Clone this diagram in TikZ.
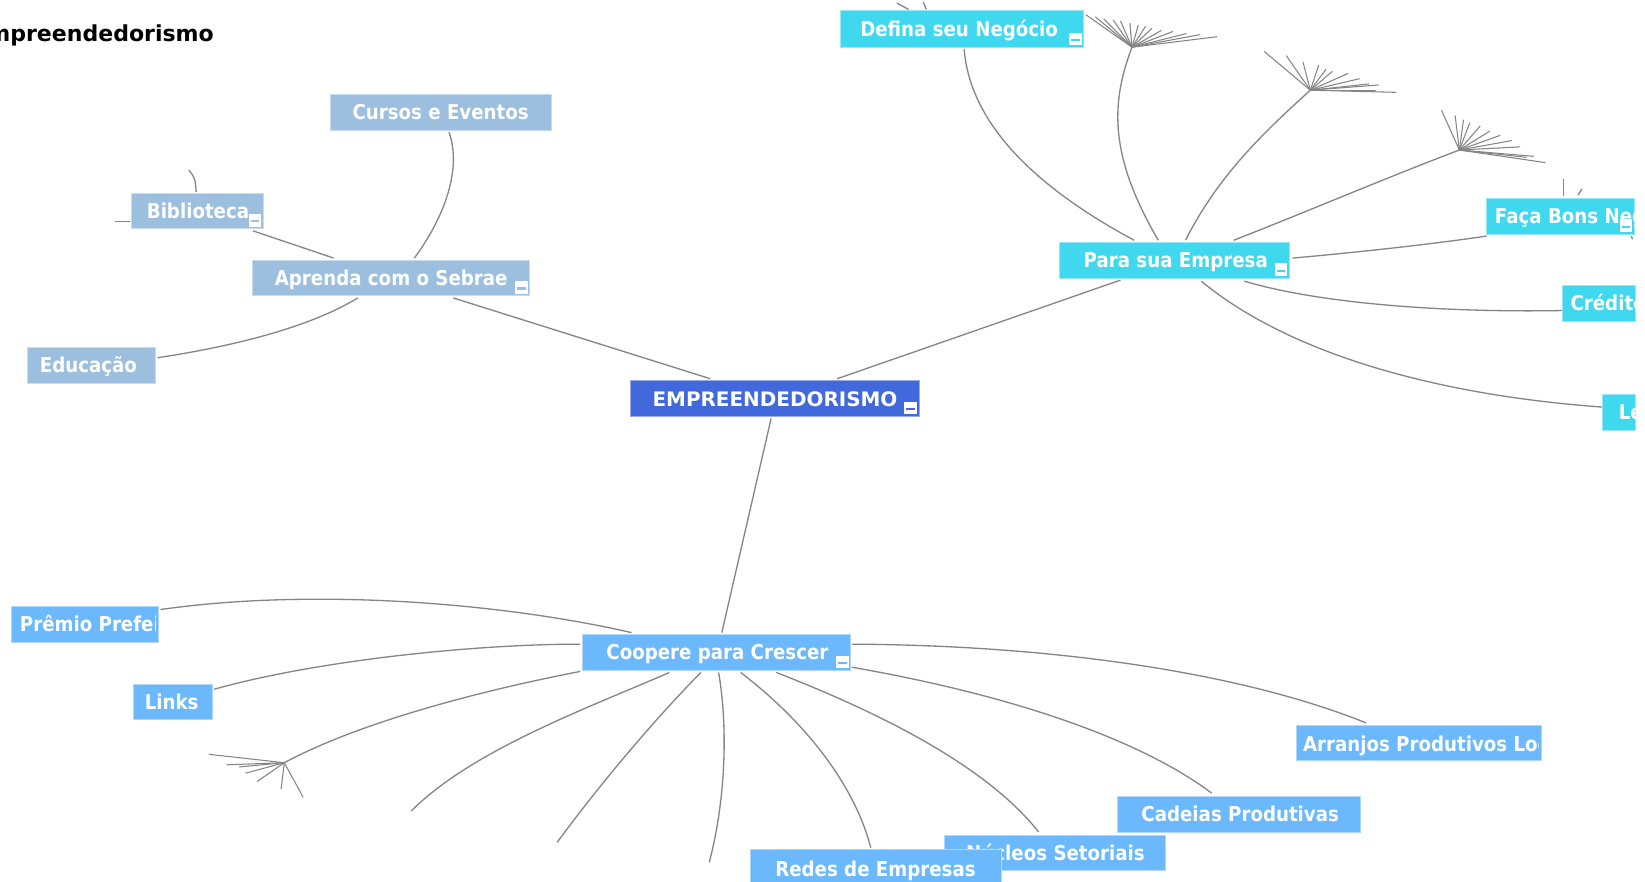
\documentclass[tikz,border=0pt]{standalone}
\usepackage{fontspec}
\setmainfont{DejaVu Sans}
\newfontfamily\nodefont{DejaVu Sans}[FakeStretch=0.89]
\usetikzlibrary{calc}
\pgfdeclarelayer{bg}
\pgfsetlayers{bg,main}
\definecolor{grpA}{HTML}{9CBFE0}
\definecolor{grpRoot}{HTML}{4169DB}
\definecolor{grpB}{HTML}{40D8EF}
\definecolor{grpC}{HTML}{6BB9FC}
\definecolor{edgecol}{HTML}{858585}
\newcommand\mkicon[2]{%
  \fill[white] ($(#1.south east)+(-14,-14)$) rectangle ($(#1.south east)+(-2,-2)$);
  \fill[#2] ($(#1.south east)+(-12,-8)$) rectangle ($(#1.south east)+(-4,-6)$);
}
\begin{document}
\begin{tikzpicture}[x=1pt,y=-1pt,
  conn/.style={draw=edgecol, line width=1.25pt},
  spoke/.style={draw=edgecol, line width=1pt},
  box/.style={rectangle, inner sep=0pt, outer sep=0pt, line width=0.8pt, minimum height=34pt},
  boxA/.style={box, fill=grpA, draw=grpA!55!white},
  boxR/.style={box, fill=grpRoot, draw=grpRoot!55!white},
  boxB/.style={box, fill=grpB, draw=grpB!55!white},
  boxC/.style={box, fill=grpC, draw=grpC!55!white},
  lbl/.style={anchor=base west, inner sep=0pt, outer sep=0pt, text=white, font=\nodefont\bfseries\fontsize{19.5}{22}\selectfont},
  rootlbl/.style={anchor=base west, inner sep=0pt, outer sep=0pt, text=white, font=\bfseries\fontsize{19}{22}\selectfont},
]
\useasboundingbox (0,0) rectangle (1568,840);

% title
\node[anchor=base east, inner sep=0pt, font=\bfseries\fontsize{21}{24}\selectfont] (title) at (204,40) {Empreendedorismo};

% boxes
\node[boxA, minimum width=211pt] (cursos) at (420.5,107) {};
\node[boxA, minimum width=126pt] (biblio) at (188,201) {};
\node[boxA, minimum width=264pt] (aprenda) at (373,265) {};
\node[boxA, minimum width=122pt] (educ) at (87,348) {};
\node[boxR, minimum width=275pt] (root) at (738.5,380) {};
\node[boxB, minimum width=232pt, minimum height=35pt] (defina) at (917,27.5) {};
\node[boxB, minimum width=219pt] (para) at (1119.5,248) {};
\node[boxB, minimum width=141pt] (faca) at (1487.5,206) {};
\node[boxB, minimum width=69.5pt] (credito) at (1523.75,289) {};
\node[boxB, minimum width=31.5pt] (lbox) at (1542.75,393) {};
\node[boxC, minimum width=256pt] (coopere) at (683,622) {};
\node[boxC, minimum width=140pt] (premio) at (81,595) {};
\node[boxC, minimum width=75pt] (links) at (164.5,669) {};
\node[boxC, minimum width=233pt] (arranjos) at (1352.5,708) {};
\node[boxC, minimum width=232pt] (cadeias) at (1181,776) {};
\node[boxC, minimum width=211pt] (nucleos) at (1005.5,813) {};
\node[lbl] (t-nucleos) at (921,820) {Núcleos Setoriais};
\node[boxC, minimum width=240pt] (redes) at (835,827) {};

% free ends
\coordinate (fan1) at (1079,45);
\coordinate (fan2) at (1249,86);
\coordinate (fan3) at (1391,143);
\coordinate (fan4) at (271,727);
\coordinate (e1) at (392,773);
\coordinate (e2) at (531,803);
\coordinate (e3) at (676,822);

\begin{pgfonlayer}{bg}
\fill[white] (0,0) rectangle (1568,840);
% root connections
\draw[conn] ($(root.north west)+(76,-2)$) -- ($(aprenda.south west)+(191,2)$);
\draw[conn] ($(root.north west)+(197,-2)$) -- ($(para.south west)+(58,2)$);
\draw[conn] ($(root.south west)+(134,2)$) -- ($(coopere.north west)+(133,-2)$);
% aprenda
\draw[conn] ($(aprenda.north west)+(77,-2)$) -- ($(biblio.south west)+(116,2)$);
\draw[conn] ($(aprenda.north west)+(154,-2)$) .. controls (425,205) and (440,160) .. ($(cursos.south west)+(113,2)$);
\draw[conn] ($(aprenda.south west)+(100,2)$) .. controls (290,315) and (210,332) .. ($(educ.north east)+(2,10)$);
\draw[conn] (110,211) -- ($(biblio.south west)+(-1,-7)$);
\draw[conn] ($(biblio.north west)+(62,-1)$) .. controls (186,170) .. (180,162);
% para
\draw[conn] ($(para.north west)+(71,-2)$) .. controls (990,180) and (925,120) .. ($(defina.south west)+(118,2)$);
\draw[conn] ($(para.north west)+(94,-2)$) .. controls (1058,150) and (1058,100) .. (fan1);
\draw[conn] ($(para.north west)+(120,-2)$) .. controls (1160,170) and (1200,130) .. (fan2);
\draw[conn] ($(para.north west)+(166,-2)$) .. controls (1250,200) and (1320,170) .. (fan3);
\draw[conn] ($(para.north east)+(3,15)$) .. controls (1300,240) and (1370,232) .. ($(faca.south west)+(0,2)$);
\draw[conn] ($(para.south west)+(176,3)$) .. controls (1260,290) and (1380,298) .. ($(credito.west)+(0,7)$);
\draw[conn] ($(para.south west)+(135,3)$) .. controls (1220,330) and (1350,375) .. ($(lbox.west)+(0,-5)$);
% stubs
\draw[conn] (855,3) -- (866,9);
\draw[conn] (880,2) -- (883,9);
\draw[conn] (1490,171) -- ($(faca.north west)+(73,-2)$);
\draw[conn] (1508,180) -- (1504,186);
\draw[conn] (1555,225) -- (1556,228);
% fans
\foreach \p in {(1035,14),(1044,16),(1052,18),(1061,19),(1068,20),(1077,22),(1085,24),(1092,25),(1098,27),(1107,29),(1118,30),(1131,32),(1144,33),(1160,35)}
  \draw[spoke] (fan1) -- \p;
\foreach \p in {(1205,49),(1226,53),(1242,59),(1257,62),(1264,66),(1270,68),(1285,70),(1296,75),(1305,80),(1314,81),(1312,86),(1331,88)}
  \draw[spoke] (fan2) -- \p;
\foreach \p in {(1374,105),(1387,110),(1395,114),(1401,117),(1411,120),(1420,125),(1430,129),(1441,134),(1449,140),(1455,150),(1462,149),(1473,155)}
  \draw[spoke] (fan3) -- \p;
\foreach \p in {(199,719),(216,729),(228,731),(234,737),(245,745),(268,752),(289,760)}
  \draw[spoke] (fan4) -- \p;
% coopere
\draw[conn] ($(coopere.north west)+(47,-2)$) .. controls (480,575) and (300,560) .. ($(premio.north east)+(2,3)$);
\draw[conn] ($(coopere.west)+(-2,-8)$) .. controls (450,614) and (300,630) .. ($(links.north east)+(2,5)$);
\draw[conn] ($(coopere.south west)+(-2,1)$) .. controls (450,660) and (340,690) .. (fan4);
\draw[conn] ($(coopere.south west)+(83,2)$) .. controls (560,675) and (450,715) .. (e1);
\draw[conn] ($(coopere.south west)+(113,2)$) .. controls (620,690) and (570,750) .. (e2);
\draw[conn] ($(coopere.south west)+(130,2)$) .. controls (695,700) and (690,770) .. (e3);
\draw[conn] ($(coopere.south west)+(151,2)$) .. controls (770,690) and (815,750) .. ($(redes.north west)+(115,-2)$);
\draw[conn] ($(coopere.south west)+(185,2)$) .. controls (840,680) and (940,730) .. ($(nucleos.north west)+(90,-3)$);
\draw[conn] ($(coopere.south east)+(1,-3)$) .. controls (950,660) and (1080,700) .. ($(cadeias.north west)+(90,-3)$);
\draw[conn] ($(coopere.north east)+(1,9)$) .. controls (1000,615) and (1180,640) .. ($(arranjos.north west)+(66,-2)$);
\end{pgfonlayer}

% labels
\node[lbl] (t-cursos) at (336,114) {Cursos e Eventos};
\node[lbl] (t-biblio) at (140,208) {Biblioteca};
\node[lbl] (t-aprenda) at (262,272) {Aprenda com o Sebrae};
\node[lbl] (t-educ) at (38,355) {Educação};
\node[rootlbl] (t-root) at (622,387) {EMPREENDEDORISMO};
\node[lbl] (t-defina) at (820,35) {Defina seu Negócio};
\node[lbl] (t-para) at (1033,255) {Para sua Empresa};
\begin{scope}
  \clip (faca.north west) rectangle (faca.south east);
  \node[lbl] (t-faca) at (1425,213) {Faça Bons Negócios};
\end{scope}
\begin{scope}
  \clip (credito.north west) rectangle (credito.south east);
  \node[lbl] (t-credito) at (1497,296) {Crédito};
\end{scope}
\begin{scope}
  \clip (lbox.north west) rectangle (lbox.south east);
  \node[lbl] (t-lbox) at (1543,400) {Le};
\end{scope}
\node[lbl] (t-coopere) at (578,629) {Coopere para Crescer};
\begin{scope}
  \clip (premio.north west) rectangle ($(premio.south east)+(-3,0)$);
  \node[lbl] (t-premio) at (19,602) {Prêmio Prefeito};
\end{scope}
\node[lbl] (t-links) at (138,676) {Links};
\begin{scope}
  \clip (arranjos.north west) rectangle ($(arranjos.south east)+(-3,0)$);
  \node[lbl] (t-arranjos) at (1242,716) {Arranjos Produtivos Locais};
\end{scope}
\node[lbl] (t-cadeias) at (1088,783) {Cadeias Produtivas};
\node[lbl] (t-redes) at (739,835) {Redes de Empresas};

% collapse icons
\mkicon{biblio}{grpA}
\mkicon{aprenda}{grpA}
\mkicon{root}{grpRoot}
\mkicon{defina}{grpB}
\mkicon{para}{grpB}
\mkicon{faca}{grpB}
\mkicon{coopere}{grpC}
\end{tikzpicture}
\end{document}
